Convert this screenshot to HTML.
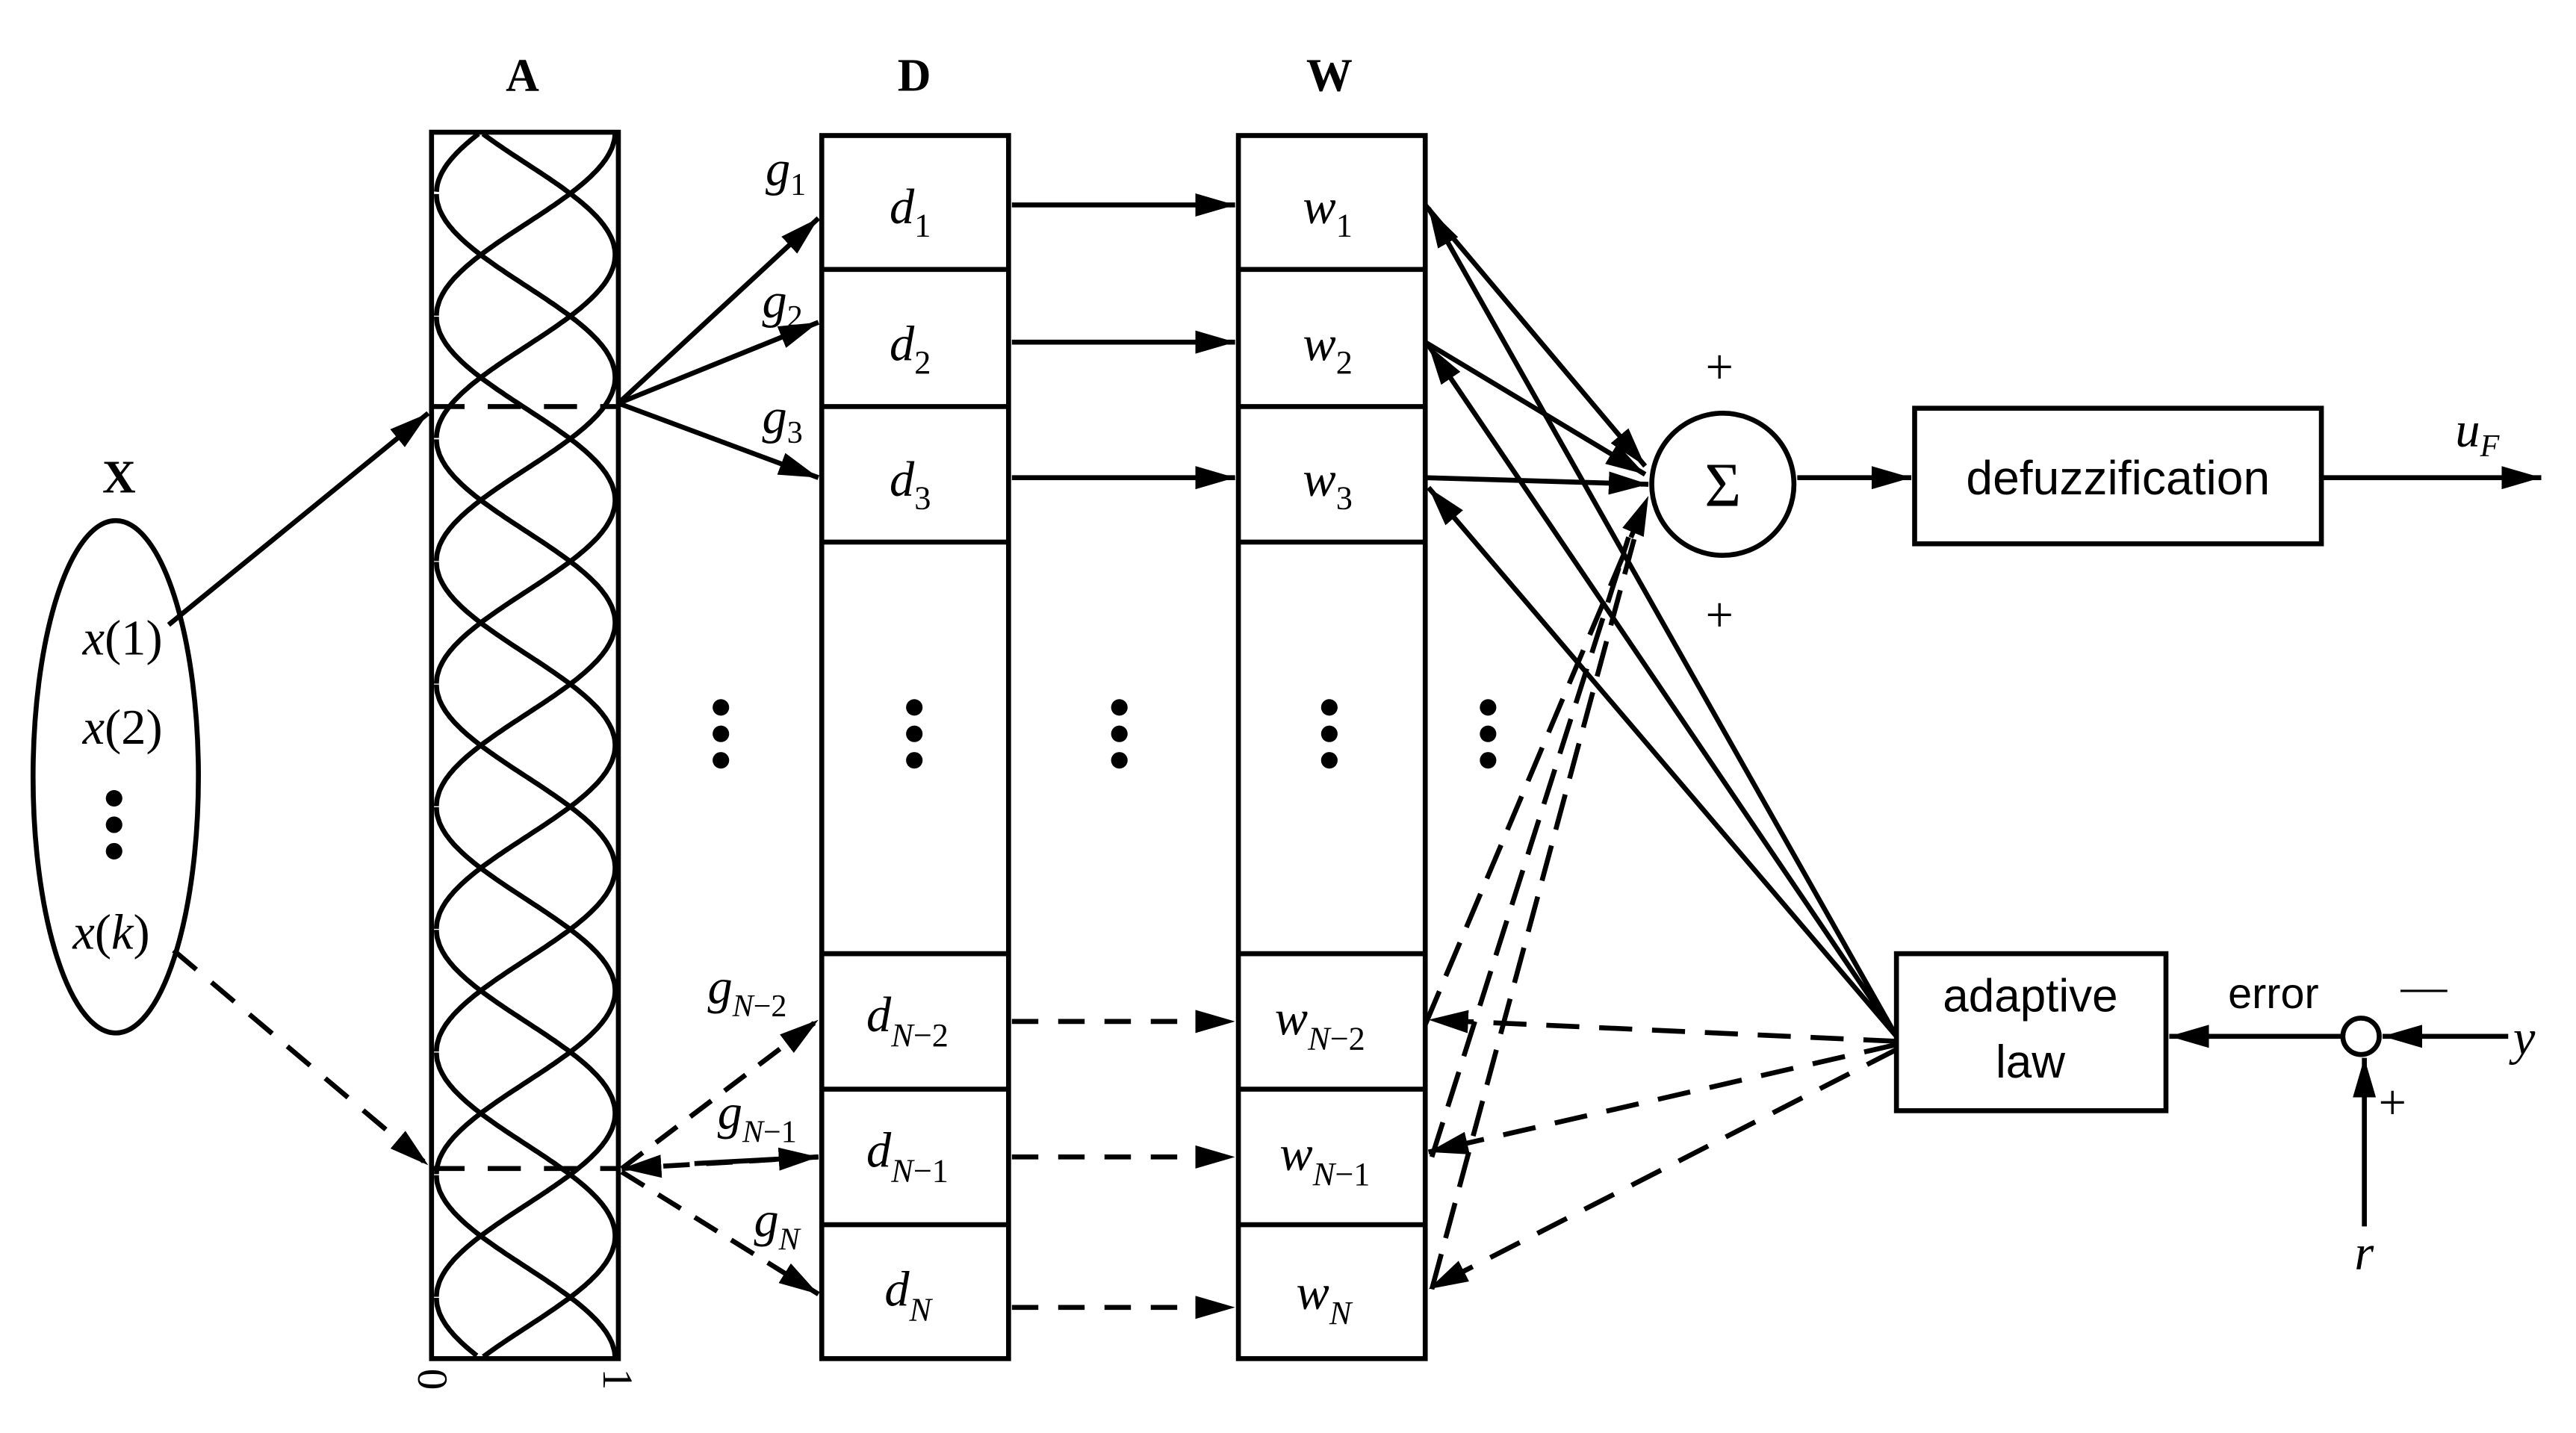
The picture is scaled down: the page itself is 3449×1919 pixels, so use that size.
<!DOCTYPE html>
<html><head><meta charset="utf-8"><style>
html,body{margin:0;padding:0;background:#fff;}
svg{display:block;}
text{font-family:"Liberation Serif",serif;fill:#000;}
.it{font-style:italic;}
.sans{font-family:"Liberation Sans",sans-serif;}
</style></head><body>
<svg id="s" width="3449" height="1919" viewBox="0 0 1558 867" preserveAspectRatio="none" xmlns="http://www.w3.org/2000/svg">
<defs>
<marker id="ahb" viewBox="0 0 10 10" refX="10" refY="5" markerWidth="24" markerHeight="14" markerUnits="userSpaceOnUse" orient="auto" preserveAspectRatio="none">
<path d="M0,0 L10,5 L0,10 z" fill="#000"/></marker>
<clipPath id="cA"><rect x="261" y="80" width="113" height="742"/></clipPath>
</defs>
<g stroke="#000" stroke-width="3" fill="none">
<ellipse cx="70" cy="470" rx="50" ry="155"/>
<rect x="261" y="80" width="113" height="742"/>
<rect x="497" y="82" width="113" height="740"/>
<line x1="497" y1="163" x2="610" y2="163"/><line x1="497" y1="246" x2="610" y2="246"/><line x1="497" y1="328" x2="610" y2="328"/>
<line x1="497" y1="577" x2="610" y2="577"/><line x1="497" y1="659" x2="610" y2="659"/><line x1="497" y1="741" x2="610" y2="741"/>
<rect x="749" y="82" width="113" height="740"/>
<line x1="749" y1="163" x2="862" y2="163"/><line x1="749" y1="246" x2="862" y2="246"/><line x1="749" y1="328" x2="862" y2="328"/>
<line x1="749" y1="577" x2="862" y2="577"/><line x1="749" y1="659" x2="862" y2="659"/><line x1="749" y1="741" x2="862" y2="741"/>
<circle cx="1042" cy="293" r="43"/>
<rect x="1158" y="247" width="246" height="82"/>
<rect x="1147" y="577" width="163" height="95"/>
<circle cx="1428" cy="627" r="11"/>
</g>
<g stroke="#000" stroke-width="3" fill="none">
<line x1="102" y1="378" x2="259" y2="250" marker-end="url(#ahb)"/>
<line x1="105" y1="575" x2="259" y2="705" stroke-dasharray="18,12" marker-end="url(#ahb)"/>
<line x1="261" y1="246" x2="374" y2="246" stroke-dasharray="20,14"/>
<line x1="261" y1="707" x2="374" y2="707" stroke-dasharray="20,14"/>
<line x1="374" y1="244" x2="495" y2="132" marker-end="url(#ahb)"/>
<line x1="374" y1="244" x2="495" y2="195" marker-end="url(#ahb)"/>
<line x1="374" y1="244" x2="495" y2="289" marker-end="url(#ahb)"/>
<line x1="376" y1="707" x2="495" y2="617" stroke-dasharray="16,10" marker-end="url(#ahb)"/>
<line x1="495" y1="700" x2="376" y2="707" stroke-dasharray="16,10" marker-end="url(#ahb)"/>
<line x1="420" y1="704" x2="495" y2="700" marker-end="url(#ahb)"/>
<line x1="376" y1="709" x2="495" y2="783" stroke-dasharray="16,10" marker-end="url(#ahb)"/>
<line x1="612" y1="124" x2="747" y2="124" marker-end="url(#ahb)"/>
<line x1="612" y1="207" x2="747" y2="207" marker-end="url(#ahb)"/>
<line x1="612" y1="289" x2="747" y2="289" marker-end="url(#ahb)"/>
<line x1="612" y1="618" x2="747" y2="618" stroke-dasharray="16,12" marker-end="url(#ahb)"/>
<line x1="612" y1="700" x2="747" y2="700" stroke-dasharray="16,12" marker-end="url(#ahb)"/>
<line x1="612" y1="791" x2="747" y2="791" stroke-dasharray="16,12" marker-end="url(#ahb)"/>
<line x1="862" y1="124" x2="995" y2="282" marker-end="url(#ahb)"/>
<line x1="862" y1="207" x2="995" y2="287" marker-end="url(#ahb)"/>
<line x1="862" y1="289" x2="997" y2="293" marker-end="url(#ahb)"/>
<line x1="862" y1="620" x2="997" y2="300" stroke-dasharray="22,10" marker-end="url(#ahb)"/>
<line x1="866" y1="700" x2="985" y2="325" stroke-dasharray="22,10"/>
<line x1="866" y1="780" x2="990" y2="320" stroke-dasharray="22,10"/>
<line x1="1147" y1="627" x2="864" y2="126" marker-end="url(#ahb)"/>
<line x1="1147" y1="627" x2="864" y2="209" marker-end="url(#ahb)"/>
<line x1="1147" y1="627" x2="864" y2="295" marker-end="url(#ahb)"/>
<line x1="1147" y1="630" x2="864" y2="617" stroke-dasharray="20,12" marker-end="url(#ahb)"/>
<line x1="1147" y1="632" x2="864" y2="697" stroke-dasharray="20,12" marker-end="url(#ahb)"/>
<line x1="1147" y1="635" x2="864" y2="780" stroke-dasharray="20,12" marker-end="url(#ahb)"/>
<line x1="1087" y1="289" x2="1156" y2="289" marker-end="url(#ahb)"/>
<line x1="1404" y1="289" x2="1537" y2="289" marker-end="url(#ahb)"/>
<line x1="1517" y1="627" x2="1441" y2="627" marker-end="url(#ahb)"/>
<line x1="1417" y1="627" x2="1312" y2="627" marker-end="url(#ahb)"/>
<line x1="1430" y1="742" x2="1430" y2="640" marker-end="url(#ahb)"/>
<path id="curves" stroke-width="3" clip-path="url(#cA)"/>
</g>
<g fill="#000">
<circle cx="69" cy="483" r="5"/><circle cx="69" cy="499" r="5"/><circle cx="69" cy="515" r="5"/>
<circle cx="436" cy="428" r="5"/><circle cx="436" cy="444" r="5"/><circle cx="436" cy="460" r="5"/>
<circle cx="553" cy="428" r="5"/><circle cx="553" cy="444" r="5"/><circle cx="553" cy="460" r="5"/>
<circle cx="677" cy="428" r="5"/><circle cx="677" cy="444" r="5"/><circle cx="677" cy="460" r="5"/>
<circle cx="804" cy="428" r="5"/><circle cx="804" cy="444" r="5"/><circle cx="804" cy="460" r="5"/>
<circle cx="900" cy="428" r="5"/><circle cx="900" cy="444" r="5"/><circle cx="900" cy="460" r="5"/>
</g>
<text x="316" y="55" font-size="28" font-weight="bold" text-anchor="middle">A</text>
<text x="553" y="55" font-size="28" font-weight="bold" text-anchor="middle">D</text>
<text x="804" y="55" font-size="28" font-weight="bold" text-anchor="middle">W</text>
<text x="72" y="298" font-size="28" font-weight="bold" text-anchor="middle">X</text>
<text x="50" y="396" font-size="30"><tspan class="it">x</tspan>(1)</text>
<text x="50" y="450" font-size="30"><tspan class="it">x</tspan>(2)</text>
<text x="44" y="574" font-size="30"><tspan class="it">x</tspan>(<tspan class="it">k</tspan>)</text>
<text transform="translate(253,828) rotate(90)" font-size="26">0</text>
<text transform="translate(365,828) rotate(90)" font-size="26">1</text>
<g font-size="30">
<text x="538" y="135" class="it">d<tspan font-size="20" dy="8" font-style="normal">1</tspan></text>
<text x="538" y="218" class="it">d<tspan font-size="20" dy="8" font-style="normal">2</tspan></text>
<text x="538" y="300" class="it">d<tspan font-size="20" dy="8" font-style="normal">3</tspan></text>
<text x="524" y="624" class="it">d<tspan font-size="20" dy="9">N</tspan><tspan font-size="20" font-style="normal">−2</tspan></text>
<text x="524" y="706" class="it">d<tspan font-size="20" dy="9">N</tspan><tspan font-size="20" font-style="normal">−1</tspan></text>
<text x="535" y="790" class="it">d<tspan font-size="20" dy="9">N</tspan></text>
<text x="788" y="135" class="it">w<tspan font-size="20" dy="8" font-style="normal">1</tspan></text>
<text x="788" y="218" class="it">w<tspan font-size="20" dy="8" font-style="normal">2</tspan></text>
<text x="788" y="300" class="it">w<tspan font-size="20" dy="8" font-style="normal">3</tspan></text>
<text x="771" y="626" class="it">w<tspan font-size="20" dy="9">N</tspan><tspan font-size="20" font-style="normal">−2</tspan></text>
<text x="774" y="708" class="it">w<tspan font-size="20" dy="9">N</tspan><tspan font-size="20" font-style="normal">−1</tspan></text>
<text x="784" y="792" class="it">w<tspan font-size="20" dy="9">N</tspan></text>
<text x="463" y="112" class="it">g<tspan font-size="19" dy="6" font-style="normal">1</tspan></text>
<text x="461" y="192" class="it">g<tspan font-size="19" dy="6" font-style="normal">2</tspan></text>
<text x="461" y="262" class="it">g<tspan font-size="19" dy="6" font-style="normal">3</tspan></text>
<text x="428" y="607" class="it">g<tspan font-size="19" dy="8">N</tspan><tspan font-size="19" font-style="normal">−2</tspan></text>
<text x="434" y="683" class="it">g<tspan font-size="19" dy="8">N</tspan><tspan font-size="19" font-style="normal">−1</tspan></text>
<text x="456" y="748" class="it">g<tspan font-size="19" dy="8">N</tspan></text>
<text x="1485" y="270" class="it">u<tspan font-size="19" dy="6">F</tspan></text>
<text x="1520" y="638" class="it">y</text>
<text x="1424" y="768" class="it">r</text>
</g>
<text x="1042" y="306" font-size="38" text-anchor="middle">Σ</text>
<text x="1040" y="232" font-size="30" text-anchor="middle">+</text>
<text x="1040" y="382" font-size="30" text-anchor="middle">+</text>
<text x="1447" y="677" font-size="30" text-anchor="middle">+</text>
<text x="1466" y="606" font-size="28" text-anchor="middle">—</text>
<text x="1281" y="299" font-size="29" text-anchor="middle" class="sans">defuzzification</text>
<text x="1228" y="612" font-size="28" text-anchor="middle" class="sans">adaptive</text>
<text x="1228" y="652" font-size="28" text-anchor="middle" class="sans">law</text>
<text x="1375" y="610" font-size="26" text-anchor="middle" class="sans">error</text>
</svg>
<script>
(function(){
 var L=264,R=372,W=R-L,h=111,d="";
 for(var k=-1;k<=11;k++){
   var c=80+74.2*k;
   var a=Math.max(81,c-h),b=Math.min(821,c+h),first=true;
   if(a>b) continue;
   for(var y=a;y<=b+0.01;y+=1){
     var x=L+W*(0.5+0.5*Math.cos(Math.PI*(y-c)/h));
     d+=(first?"M":"L")+x.toFixed(1)+","+y.toFixed(1);first=false;
   }
 }
 document.getElementById("curves").setAttribute("d",d);
})();
</script>
</body></html>
